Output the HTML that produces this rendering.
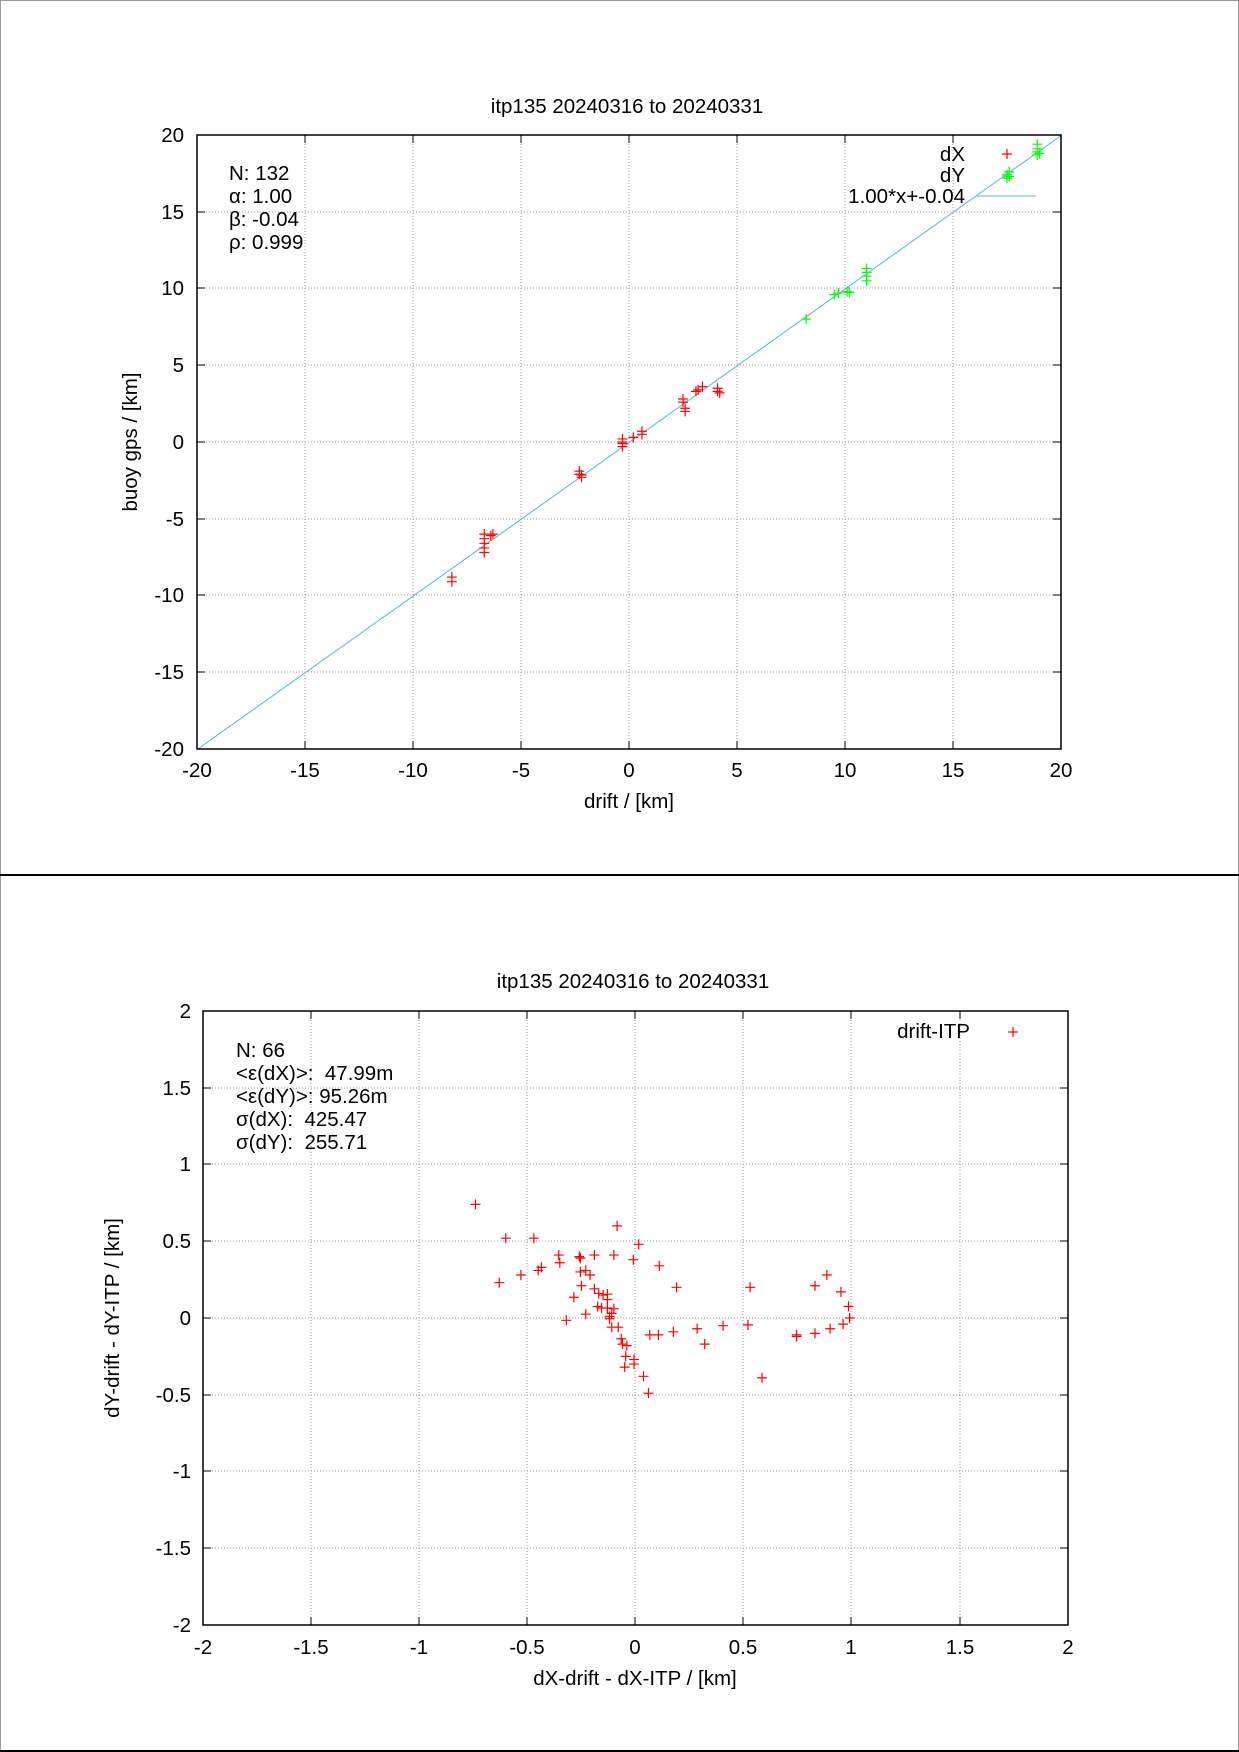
<!DOCTYPE html>
<html><head><meta charset="utf-8"><style>
body{margin:0;background:#fff}
svg{display:block;font-family:"Liberation Sans",sans-serif;font-size:20.5px}
</style></head><body>
<svg width="1239" height="1752" xmlns="http://www.w3.org/2000/svg">
<rect x="0" y="0" width="1239" height="1752" fill="#fff"/>
<rect x="0.5" y="0.5" width="1238" height="1751" fill="none" stroke="#999" stroke-width="1"/>
<line x1="0" y1="875" x2="1239" y2="875" stroke="#000" stroke-width="2"/>
<line x1="0" y1="1751" x2="1239" y2="1751" stroke="#000" stroke-width="2"/>

<!-- TOP PLOT -->
<g stroke="#999" stroke-width="1" stroke-dasharray="1,2">
<line x1="305" y1="135" x2="305" y2="749"/><line x1="413" y1="135" x2="413" y2="749"/><line x1="521" y1="135" x2="521" y2="749"/><line x1="629" y1="135" x2="629" y2="749"/><line x1="737" y1="135" x2="737" y2="749"/><line x1="845" y1="135" x2="845" y2="749"/><line x1="953" y1="135" x2="953" y2="749"/>
<line x1="197" y1="212" x2="1061" y2="212"/><line x1="197" y1="288" x2="1061" y2="288"/><line x1="197" y1="365" x2="1061" y2="365"/><line x1="197" y1="442" x2="1061" y2="442"/><line x1="197" y1="519" x2="1061" y2="519"/><line x1="197" y1="595" x2="1061" y2="595"/><line x1="197" y1="672" x2="1061" y2="672"/>
</g>
<svg x="197" y="135" width="864" height="614" viewBox="-20 -20 40 40" preserveAspectRatio="none" overflow="hidden">
<line x1="-20" y1="20.04" x2="20" y2="-19.96" stroke="#56b4e9" stroke-width="1" vector-effect="non-scaling-stroke"/>
<path fill="none" stroke="#f00" stroke-width="1.2" vector-effect="non-scaling-stroke" d="
M-8.43 8.8h0.46M-8.2 8.47v0.66 M-8.43 9.1h0.46M-8.2 8.77v0.66
M-6.93 6.0h0.46M-6.7 5.67v0.66 M-6.93 6.3h0.46M-6.7 5.97v0.66 M-6.93 6.6h0.46M-6.7 6.27v0.66 M-6.93 6.9h0.46M-6.7 6.57v0.66 M-6.93 7.2h0.46M-6.7 6.87v0.66
M-6.53 6.0h0.46M-6.3 5.67v0.66 M-6.63 6.1h0.46M-6.4 5.77v0.66
M-2.53 2.1h0.46M-2.3 1.77v0.66 M-2.43 2.3h0.46M-2.2 1.97v0.66 M-2.53 1.9h0.46M-2.3 1.57v0.66 M-2.43 2.15h0.46M-2.2 1.82v0.66
M-0.53 -0.2h0.46M-0.3 -0.53v0.66 M-0.53 0.1h0.46M-0.3 -0.23v0.66 M-0.53 0h0.46M-0.3 -0.33v0.66 M-0.53 0.3h0.46M-0.3 -0.03v0.66
M-0.03 -0.3h0.46M0.2 -0.63v0.66 M0.37 -0.5h0.46M0.6 -0.83v0.66 M0.37 -0.7h0.46M0.6 -1.03v0.66
M2.27 -2.8h0.46M2.5 -3.13v0.66 M2.27 -2.6h0.46M2.5 -2.93v0.66 M2.37 -2.2h0.46M2.6 -2.53v0.66 M2.37 -2.0h0.46M2.6 -2.33v0.66
M2.87 -3.3h0.46M3.1 -3.63v0.66 M2.97 -3.4h0.46M3.2 -3.73v0.66 M3.17 -3.6h0.46M3.4 -3.93v0.66
M3.87 -3.3h0.46M4.1 -3.63v0.66 M3.97 -3.2h0.46M4.2 -3.53v0.66 M3.87 -3.5h0.46M4.1 -3.83v0.66"/>
<path fill="none" stroke="#0f0" stroke-width="1.2" vector-effect="non-scaling-stroke" d="
M7.97 -8.0h0.46M8.2 -8.33v0.66
M9.27 -9.6h0.46M9.5 -9.93v0.66 M9.47 -9.7h0.46M9.7 -10.03v0.66 M9.87 -9.8h0.46M10.1 -10.13v0.66 M9.97 -9.75h0.46M10.2 -10.08v0.66
M10.77 -10.5h0.46M11.0 -10.83v0.66 M10.77 -10.8h0.46M11.0 -11.13v0.66 M10.77 -11.05h0.46M11.0 -11.38v0.66 M10.77 -11.3h0.46M11.0 -11.63v0.66
M17.27 -17.2h0.46M17.5 -17.53v0.66 M17.27 -17.4h0.46M17.5 -17.73v0.66 M17.37 -17.6h0.46M17.6 -17.93v0.66 M17.37 -17.3h0.46M17.6 -17.63v0.66
M18.67 -18.7h0.46M18.9 -19.03v0.66 M18.67 -18.9h0.46M18.9 -19.23v0.66 M18.67 -19.1h0.46M18.9 -19.43v0.66 M18.67 -19.4h0.46M18.9 -19.73v0.66 M18.77 -18.8h0.46M19.0 -19.13v0.66"/>
</svg>
<rect x="197" y="135" width="864" height="614" fill="none" stroke="#000" stroke-width="1.5"/>
<g stroke="#000" stroke-width="1">
<path d="M305 749v-8M413 749v-8M521 749v-8M629 749v-8M737 749v-8M845 749v-8M953 749v-8M305 135v8M413 135v8M521 135v8M629 135v8M737 135v8M845 135v8M953 135v8"/>
<path d="M197 212h8M197 288h8M197 365h8M197 442h8M197 519h8M197 595h8M197 672h8M1061 212h-8M1061 288h-8M1061 365h-8M1061 442h-8M1061 519h-8M1061 595h-8M1061 672h-8"/>
</g>
<g text-anchor="end">
<text x="184" y="142">20</text><text x="184" y="219">15</text><text x="184" y="295">10</text><text x="184" y="372">5</text><text x="184" y="449">0</text><text x="184" y="526">-5</text><text x="184" y="602">-10</text><text x="184" y="679">-15</text><text x="184" y="756">-20</text>
</g>
<g text-anchor="middle">
<text x="197" y="777">-20</text><text x="305" y="777">-15</text><text x="413" y="777">-10</text><text x="521" y="777">-5</text><text x="629" y="777">0</text><text x="737" y="777">5</text><text x="845" y="777">10</text><text x="953" y="777">15</text><text x="1061" y="777">20</text>
<text x="629" y="808">drift / [km]</text>
<text x="627" y="113">itp135 20240316 to 20240331</text>
<text transform="translate(137,442) rotate(-90)">buoy gps / [km]</text>
</g>
<text x="229" y="180">N: 132</text><text x="229" y="203">α: 1.00</text><text x="229" y="226">β: -0.04</text><text x="229" y="249">ρ: 0.999</text>
<g text-anchor="end"><text x="965" y="161">dX</text><text x="965" y="182">dY</text><text x="965" y="203">1.00*x+-0.04</text></g>
<path d="M1002 154h10M1007 149v10" stroke="#f00" stroke-width="1.2"/>
<path d="M1002 175h10M1007 170v10" stroke="#0f0" stroke-width="1.2"/>
<line x1="977" y1="196" x2="1036" y2="196" stroke="#56b4e9"/>

<!-- BOTTOM PLOT -->
<g stroke="#999" stroke-width="1" stroke-dasharray="1,2">
<line x1="311" y1="1011" x2="311" y2="1625"/><line x1="419" y1="1011" x2="419" y2="1625"/><line x1="527" y1="1011" x2="527" y2="1625"/><line x1="635" y1="1011" x2="635" y2="1625"/><line x1="743" y1="1011" x2="743" y2="1625"/><line x1="851" y1="1011" x2="851" y2="1625"/><line x1="960" y1="1011" x2="960" y2="1625"/>
<line x1="203" y1="1088" x2="1068" y2="1088"/><line x1="203" y1="1164" x2="1068" y2="1164"/><line x1="203" y1="1241" x2="1068" y2="1241"/><line x1="203" y1="1318" x2="1068" y2="1318"/><line x1="203" y1="1395" x2="1068" y2="1395"/><line x1="203" y1="1471" x2="1068" y2="1471"/><line x1="203" y1="1548" x2="1068" y2="1548"/>
</g>
<svg x="203" y="1011" width="865" height="614" viewBox="-2 -2 4 4" preserveAspectRatio="none" overflow="hidden">
<path fill="none" stroke="#f00" stroke-width="1.2" vector-effect="non-scaling-stroke" d="
M-0.763 -0.74h0.046M-0.74 -0.773v0.066
M-0.623 -0.52h0.046M-0.6 -0.553v0.066
M-0.493 -0.52h0.046M-0.47 -0.553v0.066
M-0.653 -0.23h0.046M-0.63 -0.263v0.066
M-0.553 -0.28h0.046M-0.53 -0.313v0.066
M-0.473 -0.31h0.046M-0.45 -0.343v0.066
M-0.458 -0.33h0.046M-0.435 -0.363v0.066
M-0.378 -0.41h0.046M-0.355 -0.443v0.066
M-0.373 -0.36h0.046M-0.35 -0.393v0.066
M-0.283 -0.40h0.046M-0.26 -0.433v0.066
M-0.278 -0.39h0.046M-0.255 -0.423v0.066
M-0.278 -0.30h0.046M-0.255 -0.333v0.066
M-0.253 -0.31h0.046M-0.23 -0.343v0.066
M-0.233 -0.28h0.046M-0.21 -0.313v0.066
M-0.273 -0.21h0.046M-0.25 -0.243v0.066
M-0.213 -0.41h0.046M-0.19 -0.443v0.066
M-0.308 -0.135h0.046M-0.285 -0.168v0.066
M-0.343 0.015h0.046M-0.32 -0.018v0.066
M-0.253 -0.025h0.046M-0.23 -0.058v0.066
M-0.213 -0.19h0.046M-0.19 -0.223v0.066
M-0.193 -0.16h0.046M-0.17 -0.193v0.066
M-0.173 -0.15h0.046M-0.15 -0.183v0.066
M-0.153 -0.155h0.046M-0.13 -0.188v0.066
M-0.153 -0.12h0.046M-0.13 -0.153v0.066
M-0.153 -0.065h0.046M-0.13 -0.098v0.066
M-0.198 -0.075h0.046M-0.175 -0.108v0.066
M-0.18 -0.065h0.046M-0.157 -0.098v0.066
M-0.143 -0.01h0.046M-0.12 -0.043v0.066
M-0.143 0.005h0.046M-0.12 -0.028v0.066
M-0.133 -0.03h0.046M-0.11 -0.063v0.066
M-0.123 -0.06h0.046M-0.1 -0.093v0.066
M-0.133 0.06h0.046M-0.11 0.027v0.066
M-0.103 0.06h0.046M-0.08 0.027v0.066
M-0.108 -0.60h0.046M-0.085 -0.633v0.066
M-0.123 -0.41h0.046M-0.1 -0.443v0.066
M-0.089 0.135h0.046M-0.066 0.102v0.066
M-0.083 0.17h0.046M-0.06 0.137v0.066
M-0.063 0.18h0.046M-0.04 0.147v0.066
M-0.068 0.25h0.046M-0.045 0.217v0.066
M-0.073 0.32h0.046M-0.05 0.287v0.066
M-0.03 0.27h0.046M-0.007 0.237v0.066
M-0.03 0.30h0.046M-0.007 0.267v0.066
M-0.033 -0.38h0.046M-0.01 -0.413v0.066
M-0.008 -0.48h0.046M0.015 -0.513v0.066
M0.014 0.38h0.046M0.037 0.347v0.066
M0.037 0.49h0.046M0.06 0.457v0.066
M0.043 0.11h0.046M0.066 0.077v0.066
M0.083 0.11h0.046M0.106 0.077v0.066
M0.087 -0.34h0.046M0.11 -0.373v0.066
M0.152 0.09h0.046M0.175 0.057v0.066
M0.167 -0.20h0.046M0.19 -0.233v0.066
M0.262 0.07h0.046M0.285 0.037v0.066
M0.297 0.17h0.046M0.32 0.137v0.066
M0.382 0.05h0.046M0.405 0.017v0.066
M0.497 0.045h0.046M0.52 0.012v0.066
M0.507 -0.20h0.046M0.53 -0.233v0.066
M0.562 0.39h0.046M0.585 0.357v0.066
M0.722 0.11h0.046M0.745 0.077v0.066
M0.722 0.12h0.046M0.745 0.087v0.066
M0.807 0.10h0.046M0.83 0.067v0.066
M0.807 -0.21h0.046M0.83 -0.243v0.066
M0.862 -0.28h0.046M0.885 -0.313v0.066
M0.877 0.07h0.046M0.9 0.037v0.066
M0.927 -0.17h0.046M0.95 -0.203v0.066
M0.937 0.04h0.046M0.96 0.007v0.066
M0.962 -0.075h0.046M0.985 -0.108v0.066
M0.967 0h0.046M0.99 -0.033v0.066"/>
</svg>
<rect x="203" y="1011" width="865" height="614" fill="none" stroke="#000" stroke-width="1.5"/>
<g stroke="#000" stroke-width="1">
<path d="M311 1625v-8M419 1625v-8M527 1625v-8M635 1625v-8M743 1625v-8M851 1625v-8M960 1625v-8M311 1011v8M419 1011v8M527 1011v8M635 1011v8M743 1011v8M851 1011v8M960 1011v8"/>
<path d="M203 1088h8M203 1164h8M203 1241h8M203 1318h8M203 1395h8M203 1471h8M203 1548h8M1068 1088h-8M1068 1164h-8M1068 1241h-8M1068 1318h-8M1068 1395h-8M1068 1471h-8M1068 1548h-8"/>
</g>
<g text-anchor="end">
<text x="191" y="1018">2</text><text x="191" y="1095">1.5</text><text x="191" y="1171">1</text><text x="191" y="1248">0.5</text><text x="191" y="1325">0</text><text x="191" y="1402">-0.5</text><text x="191" y="1478">-1</text><text x="191" y="1555">-1.5</text><text x="191" y="1632">-2</text>
</g>
<g text-anchor="middle">
<text x="203" y="1654">-2</text><text x="311" y="1654">-1.5</text><text x="419" y="1654">-1</text><text x="527" y="1654">-0.5</text><text x="635" y="1654">0</text><text x="743" y="1654">0.5</text><text x="851" y="1654">1</text><text x="960" y="1654">1.5</text><text x="1068" y="1654">2</text>
<text x="635" y="1685">dX-drift - dX-ITP / [km]</text>
<text x="633" y="988">itp135 20240316 to 20240331</text>
<text transform="translate(119,1318) rotate(-90)">dY-drift - dY-ITP / [km]</text>
</g>
<text x="236" y="1057">N: 66</text><text x="236" y="1080" xml:space="preserve">&lt;ε(dX)&gt;:  47.99m</text><text x="236" y="1103">&lt;ε(dY)&gt;: 95.26m</text><text x="236" y="1126" xml:space="preserve">σ(dX):  425.47</text><text x="236" y="1149" xml:space="preserve">σ(dY):  255.71</text>
<text x="970" y="1038" text-anchor="end">drift-ITP</text>
<path d="M1008 1032h10M1013 1027v10" stroke="#f00" stroke-width="1.2"/>
</svg>
</body></html>
